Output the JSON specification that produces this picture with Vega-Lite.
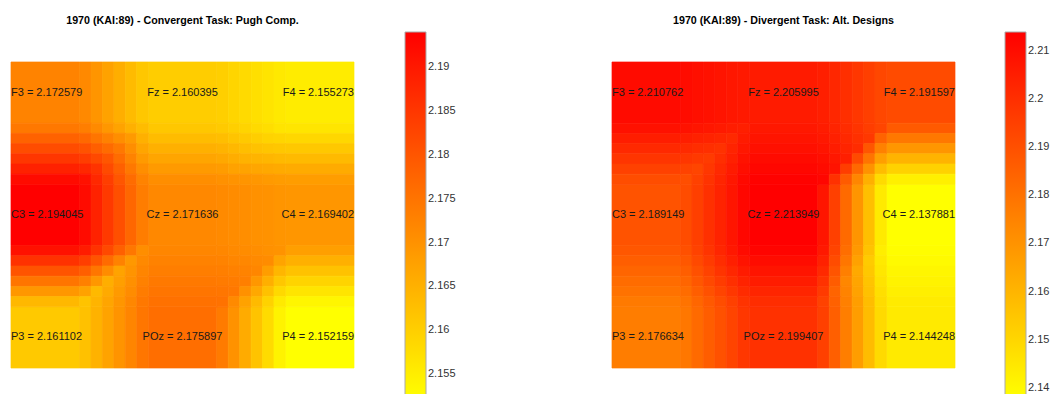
{
  "$schema": "https://vega.github.io/schema/vega-lite/v6.json",
  "padding": {"left": 10, "top": 15, "right": 0, "bottom": 0},
  "background": "white",
  "datasets": {
    "conv": [
      {"x0":0,"x1":6,"y0":0,"y1":6,"v":2.172579},{"x0":12,"x1":18,"y0":0,"y1":6,"v":2.160395},{"x0":24,"x1":30,"y0":0,"y1":6,"v":2.155273},
      {"x0":0,"x1":6,"y0":12,"y1":18,"v":2.194045},{"x0":12,"x1":18,"y0":12,"y1":18,"v":2.171636},{"x0":24,"x1":30,"y0":12,"y1":18,"v":2.169402},
      {"x0":0,"x1":6,"y0":24,"y1":30,"v":2.161102},{"x0":12,"x1":18,"y0":24,"y1":30,"v":2.175897},{"x0":24,"x1":30,"y0":24,"y1":30,"v":2.152159},
      {"x0":6,"x1":7,"y0":0,"y1":6,"v":2.1716},{"x0":7,"x1":8,"y0":0,"y1":6,"v":2.1695},{"x0":8,"x1":9,"y0":0,"y1":6,"v":2.1675},{"x0":9,"x1":10,"y0":0,"y1":6,"v":2.1655},{"x0":10,"x1":11,"y0":0,"y1":6,"v":2.1634},{"x0":11,"x1":12,"y0":0,"y1":6,"v":2.1614},
      {"x0":18,"x1":19,"y0":0,"y1":6,"v":2.1600},{"x0":19,"x1":20,"y0":0,"y1":6,"v":2.1591},{"x0":20,"x1":21,"y0":0,"y1":6,"v":2.1583},{"x0":21,"x1":22,"y0":0,"y1":6,"v":2.1574},{"x0":22,"x1":23,"y0":0,"y1":6,"v":2.1566},{"x0":23,"x1":24,"y0":0,"y1":6,"v":2.1557},
      {"x0":6,"x1":7,"y0":12,"y1":18,"v":2.1922},{"x0":7,"x1":8,"y0":12,"y1":18,"v":2.1884},{"x0":8,"x1":9,"y0":12,"y1":18,"v":2.1847},{"x0":9,"x1":10,"y0":12,"y1":18,"v":2.1810},{"x0":10,"x1":11,"y0":12,"y1":18,"v":2.1772},{"x0":11,"x1":12,"y0":12,"y1":18,"v":2.1735},
      {"x0":18,"x1":19,"y0":12,"y1":18,"v":2.1714},{"x0":19,"x1":20,"y0":12,"y1":18,"v":2.1711},{"x0":20,"x1":21,"y0":12,"y1":18,"v":2.1707},{"x0":21,"x1":22,"y0":12,"y1":18,"v":2.1703},{"x0":22,"x1":23,"y0":12,"y1":18,"v":2.1700},{"x0":23,"x1":24,"y0":12,"y1":18,"v":2.1696},
      {"x0":6,"x1":7,"y0":24,"y1":30,"v":2.1623},{"x0":7,"x1":8,"y0":24,"y1":30,"v":2.1648},{"x0":8,"x1":9,"y0":24,"y1":30,"v":2.1673},{"x0":9,"x1":10,"y0":24,"y1":30,"v":2.1697},{"x0":10,"x1":11,"y0":24,"y1":30,"v":2.1722},{"x0":11,"x1":12,"y0":24,"y1":30,"v":2.1747},
      {"x0":18,"x1":19,"y0":24,"y1":30,"v":2.1739},{"x0":19,"x1":20,"y0":24,"y1":30,"v":2.1700},{"x0":20,"x1":21,"y0":24,"y1":30,"v":2.1660},{"x0":21,"x1":22,"y0":24,"y1":30,"v":2.1620},{"x0":22,"x1":23,"y0":24,"y1":30,"v":2.1581},{"x0":23,"x1":24,"y0":24,"y1":30,"v":2.1541},
      {"x0":0,"x1":6,"y0":6,"y1":7,"v":2.1744},{"x0":0,"x1":6,"y0":7,"y1":8,"v":2.1779},{"x0":0,"x1":6,"y0":8,"y1":9,"v":2.1815},{"x0":0,"x1":6,"y0":9,"y1":10,"v":2.1851},{"x0":0,"x1":6,"y0":10,"y1":11,"v":2.1887},{"x0":0,"x1":6,"y0":11,"y1":12,"v":2.1923},
      {"x0":12,"x1":18,"y0":6,"y1":7,"v":2.1613},{"x0":12,"x1":18,"y0":7,"y1":8,"v":2.1632},{"x0":12,"x1":18,"y0":8,"y1":9,"v":2.1651},{"x0":12,"x1":18,"y0":9,"y1":10,"v":2.1670},{"x0":12,"x1":18,"y0":10,"y1":11,"v":2.1688},{"x0":12,"x1":18,"y0":11,"y1":12,"v":2.1707},
      {"x0":24,"x1":30,"y0":6,"y1":7,"v":2.1565},{"x0":24,"x1":30,"y0":7,"y1":8,"v":2.1588},{"x0":24,"x1":30,"y0":8,"y1":9,"v":2.1612},{"x0":24,"x1":30,"y0":9,"y1":10,"v":2.1635},{"x0":24,"x1":30,"y0":10,"y1":11,"v":2.1659},{"x0":24,"x1":30,"y0":11,"y1":12,"v":2.1682},
      {"x0":0,"x1":6,"y0":18,"y1":19,"v":2.1913},{"x0":0,"x1":6,"y0":19,"y1":20,"v":2.1858},{"x0":0,"x1":6,"y0":20,"y1":21,"v":2.1803},{"x0":0,"x1":6,"y0":21,"y1":22,"v":2.1748},{"x0":0,"x1":6,"y0":22,"y1":23,"v":2.1693},{"x0":0,"x1":6,"y0":23,"y1":24,"v":2.1638},
      {"x0":12,"x1":18,"y0":18,"y1":19,"v":2.1720},{"x0":12,"x1":18,"y0":19,"y1":20,"v":2.1727},{"x0":12,"x1":18,"y0":20,"y1":21,"v":2.1734},{"x0":12,"x1":18,"y0":21,"y1":22,"v":2.1741},{"x0":12,"x1":18,"y0":22,"y1":23,"v":2.1748},{"x0":12,"x1":18,"y0":23,"y1":24,"v":2.1755},
      {"x0":24,"x1":30,"y0":18,"y1":19,"v":2.1680},{"x0":24,"x1":30,"y0":19,"y1":20,"v":2.1651},{"x0":24,"x1":30,"y0":20,"y1":21,"v":2.1622},{"x0":24,"x1":30,"y0":21,"y1":22,"v":2.1593},{"x0":24,"x1":30,"y0":22,"y1":23,"v":2.1565},{"x0":24,"x1":30,"y0":23,"y1":24,"v":2.1536},
      {"x0":6,"x1":7,"y0":6,"y1":7,"v":2.1734},{"x0":7,"x1":8,"y0":6,"y1":7,"v":2.1713},{"x0":8,"x1":9,"y0":6,"y1":7,"v":2.1693},{"x0":9,"x1":10,"y0":6,"y1":7,"v":2.1673},{"x0":10,"x1":11,"y0":6,"y1":7,"v":2.1652},{"x0":11,"x1":12,"y0":6,"y1":7,"v":2.1632},
      {"x0":6,"x1":7,"y0":7,"y1":8,"v":2.1769},{"x0":7,"x1":8,"y0":7,"y1":8,"v":2.1749},{"x0":8,"x1":9,"y0":7,"y1":8,"v":2.1729},{"x0":9,"x1":10,"y0":7,"y1":8,"v":2.1708},{"x0":10,"x1":11,"y0":7,"y1":8,"v":2.1688},{"x0":11,"x1":12,"y0":7,"y1":8,"v":2.1651},
      {"x0":6,"x1":7,"y0":8,"y1":9,"v":2.1805},{"x0":7,"x1":8,"y0":8,"y1":9,"v":2.1785},{"x0":8,"x1":9,"y0":8,"y1":9,"v":2.1764},{"x0":9,"x1":10,"y0":8,"y1":9,"v":2.1744},{"x0":10,"x1":11,"y0":8,"y1":9,"v":2.1707},{"x0":11,"x1":12,"y0":8,"y1":9,"v":2.1669},
      {"x0":6,"x1":7,"y0":9,"y1":10,"v":2.1841},{"x0":7,"x1":8,"y0":9,"y1":10,"v":2.1821},{"x0":8,"x1":9,"y0":9,"y1":10,"v":2.1800},{"x0":9,"x1":10,"y0":9,"y1":10,"v":2.1763},{"x0":10,"x1":11,"y0":9,"y1":10,"v":2.1726},{"x0":11,"x1":12,"y0":9,"y1":10,"v":2.1688},
      {"x0":6,"x1":7,"y0":10,"y1":11,"v":2.1877},{"x0":7,"x1":8,"y0":10,"y1":11,"v":2.1856},{"x0":8,"x1":9,"y0":10,"y1":11,"v":2.1819},{"x0":9,"x1":10,"y0":10,"y1":11,"v":2.1782},{"x0":10,"x1":11,"y0":10,"y1":11,"v":2.1744},{"x0":11,"x1":12,"y0":10,"y1":11,"v":2.1707},
      {"x0":6,"x1":7,"y0":11,"y1":12,"v":2.1912},{"x0":7,"x1":8,"y0":11,"y1":12,"v":2.1875},{"x0":8,"x1":9,"y0":11,"y1":12,"v":2.1838},{"x0":9,"x1":10,"y0":11,"y1":12,"v":2.1800},{"x0":10,"x1":11,"y0":11,"y1":12,"v":2.1763},{"x0":11,"x1":12,"y0":11,"y1":12,"v":2.1726},
      {"x0":18,"x1":19,"y0":6,"y1":7,"v":2.1609},{"x0":19,"x1":20,"y0":6,"y1":7,"v":2.1601},{"x0":20,"x1":21,"y0":6,"y1":7,"v":2.1592},{"x0":21,"x1":22,"y0":6,"y1":7,"v":2.1583},{"x0":22,"x1":23,"y0":6,"y1":7,"v":2.1575},{"x0":23,"x1":24,"y0":6,"y1":7,"v":2.1566},
      {"x0":18,"x1":19,"y0":7,"y1":8,"v":2.1628},{"x0":19,"x1":20,"y0":7,"y1":8,"v":2.1619},{"x0":20,"x1":21,"y0":7,"y1":8,"v":2.1611},{"x0":21,"x1":22,"y0":7,"y1":8,"v":2.1602},{"x0":22,"x1":23,"y0":7,"y1":8,"v":2.1594},{"x0":23,"x1":24,"y0":7,"y1":8,"v":2.1590},
      {"x0":18,"x1":19,"y0":8,"y1":9,"v":2.1647},{"x0":19,"x1":20,"y0":8,"y1":9,"v":2.1638},{"x0":20,"x1":21,"y0":8,"y1":9,"v":2.1629},{"x0":21,"x1":22,"y0":8,"y1":9,"v":2.1621},{"x0":22,"x1":23,"y0":8,"y1":9,"v":2.1617},{"x0":23,"x1":24,"y0":8,"y1":9,"v":2.1613},
      {"x0":18,"x1":19,"y0":9,"y1":10,"v":2.1665},{"x0":19,"x1":20,"y0":9,"y1":10,"v":2.1657},{"x0":20,"x1":21,"y0":9,"y1":10,"v":2.1648},{"x0":21,"x1":22,"y0":9,"y1":10,"v":2.1644},{"x0":22,"x1":23,"y0":9,"y1":10,"v":2.1641},{"x0":23,"x1":24,"y0":9,"y1":10,"v":2.1637},
      {"x0":18,"x1":19,"y0":10,"y1":11,"v":2.1684},{"x0":19,"x1":20,"y0":10,"y1":11,"v":2.1675},{"x0":20,"x1":21,"y0":10,"y1":11,"v":2.1672},{"x0":21,"x1":22,"y0":10,"y1":11,"v":2.1668},{"x0":22,"x1":23,"y0":10,"y1":11,"v":2.1664},{"x0":23,"x1":24,"y0":10,"y1":11,"v":2.1661},
      {"x0":18,"x1":19,"y0":11,"y1":12,"v":2.1703},{"x0":19,"x1":20,"y0":11,"y1":12,"v":2.1699},{"x0":20,"x1":21,"y0":11,"y1":12,"v":2.1695},{"x0":21,"x1":22,"y0":11,"y1":12,"v":2.1692},{"x0":22,"x1":23,"y0":11,"y1":12,"v":2.1688},{"x0":23,"x1":24,"y0":11,"y1":12,"v":2.1684},
      {"x0":6,"x1":7,"y0":18,"y1":19,"v":2.1894},{"x0":7,"x1":8,"y0":18,"y1":19,"v":2.1857},{"x0":8,"x1":9,"y0":18,"y1":19,"v":2.1820},{"x0":9,"x1":10,"y0":18,"y1":19,"v":2.1782},{"x0":10,"x1":11,"y0":18,"y1":19,"v":2.1745},{"x0":11,"x1":12,"y0":18,"y1":19,"v":2.1708},
      {"x0":6,"x1":7,"y0":19,"y1":20,"v":2.1839},{"x0":7,"x1":8,"y0":19,"y1":20,"v":2.1802},{"x0":8,"x1":9,"y0":19,"y1":20,"v":2.1765},{"x0":9,"x1":10,"y0":19,"y1":20,"v":2.1727},{"x0":10,"x1":11,"y0":19,"y1":20,"v":2.1690},{"x0":11,"x1":12,"y0":19,"y1":20,"v":2.1715},
      {"x0":6,"x1":7,"y0":20,"y1":21,"v":2.1785},{"x0":7,"x1":8,"y0":20,"y1":21,"v":2.1747},{"x0":8,"x1":9,"y0":20,"y1":21,"v":2.1710},{"x0":9,"x1":10,"y0":20,"y1":21,"v":2.1672},{"x0":10,"x1":11,"y0":20,"y1":21,"v":2.1697},{"x0":11,"x1":12,"y0":20,"y1":21,"v":2.1722},
      {"x0":6,"x1":7,"y0":21,"y1":22,"v":2.1730},{"x0":7,"x1":8,"y0":21,"y1":22,"v":2.1692},{"x0":8,"x1":9,"y0":21,"y1":22,"v":2.1655},{"x0":9,"x1":10,"y0":21,"y1":22,"v":2.1680},{"x0":10,"x1":11,"y0":21,"y1":22,"v":2.1704},{"x0":11,"x1":12,"y0":21,"y1":22,"v":2.1729},
      {"x0":6,"x1":7,"y0":22,"y1":23,"v":2.1675},{"x0":7,"x1":8,"y0":22,"y1":23,"v":2.1637},{"x0":8,"x1":9,"y0":22,"y1":23,"v":2.1662},{"x0":9,"x1":10,"y0":22,"y1":23,"v":2.1687},{"x0":10,"x1":11,"y0":22,"y1":23,"v":2.1711},{"x0":11,"x1":12,"y0":22,"y1":23,"v":2.1736},
      {"x0":6,"x1":7,"y0":23,"y1":24,"v":2.1620},{"x0":7,"x1":8,"y0":23,"y1":24,"v":2.1644},{"x0":8,"x1":9,"y0":23,"y1":24,"v":2.1669},{"x0":9,"x1":10,"y0":23,"y1":24,"v":2.1694},{"x0":10,"x1":11,"y0":23,"y1":24,"v":2.1718},{"x0":11,"x1":12,"y0":23,"y1":24,"v":2.1743},
      {"x0":18,"x1":19,"y0":18,"y1":19,"v":2.1718},{"x0":19,"x1":20,"y0":18,"y1":19,"v":2.1714},{"x0":20,"x1":21,"y0":18,"y1":19,"v":2.1711},{"x0":21,"x1":22,"y0":18,"y1":19,"v":2.1707},{"x0":22,"x1":23,"y0":18,"y1":19,"v":2.1703},{"x0":23,"x1":24,"y0":18,"y1":19,"v":2.1699},
      {"x0":18,"x1":19,"y0":19,"y1":20,"v":2.1725},{"x0":19,"x1":20,"y0":19,"y1":20,"v":2.1721},{"x0":20,"x1":21,"y0":19,"y1":20,"v":2.1718},{"x0":21,"x1":22,"y0":19,"y1":20,"v":2.1714},{"x0":22,"x1":23,"y0":19,"y1":20,"v":2.1710},{"x0":23,"x1":24,"y0":19,"y1":20,"v":2.1671},
      {"x0":18,"x1":19,"y0":20,"y1":21,"v":2.1732},{"x0":19,"x1":20,"y0":20,"y1":21,"v":2.1729},{"x0":20,"x1":21,"y0":20,"y1":21,"v":2.1725},{"x0":21,"x1":22,"y0":20,"y1":21,"v":2.1721},{"x0":22,"x1":23,"y0":20,"y1":21,"v":2.1682},{"x0":23,"x1":24,"y0":20,"y1":21,"v":2.1642},
      {"x0":18,"x1":19,"y0":21,"y1":22,"v":2.1739},{"x0":19,"x1":20,"y0":21,"y1":22,"v":2.1736},{"x0":20,"x1":21,"y0":21,"y1":22,"v":2.1732},{"x0":21,"x1":22,"y0":21,"y1":22,"v":2.1692},{"x0":22,"x1":23,"y0":21,"y1":22,"v":2.1653},{"x0":23,"x1":24,"y0":21,"y1":22,"v":2.1613},
      {"x0":18,"x1":19,"y0":22,"y1":23,"v":2.1746},{"x0":19,"x1":20,"y0":22,"y1":23,"v":2.1743},{"x0":20,"x1":21,"y0":22,"y1":23,"v":2.1703},{"x0":21,"x1":22,"y0":22,"y1":23,"v":2.1664},{"x0":22,"x1":23,"y0":22,"y1":23,"v":2.1624},{"x0":23,"x1":24,"y0":22,"y1":23,"v":2.1584},
      {"x0":18,"x1":19,"y0":23,"y1":24,"v":2.1754},{"x0":19,"x1":20,"y0":23,"y1":24,"v":2.1714},{"x0":20,"x1":21,"y0":23,"y1":24,"v":2.1674},{"x0":21,"x1":22,"y0":23,"y1":24,"v":2.1635},{"x0":22,"x1":23,"y0":23,"y1":24,"v":2.1595},{"x0":23,"x1":24,"y0":23,"y1":24,"v":2.1556}
    ],
    "div": [
      {"x0":0,"x1":6,"y0":0,"y1":6,"v":2.210762},{"x0":12,"x1":18,"y0":0,"y1":6,"v":2.205995},{"x0":24,"x1":30,"y0":0,"y1":6,"v":2.191597},
      {"x0":0,"x1":6,"y0":12,"y1":18,"v":2.189149},{"x0":12,"x1":18,"y0":12,"y1":18,"v":2.213949},{"x0":24,"x1":30,"y0":12,"y1":18,"v":2.137881},
      {"x0":0,"x1":6,"y0":24,"y1":30,"v":2.176634},{"x0":12,"x1":18,"y0":24,"y1":30,"v":2.199407},{"x0":24,"x1":30,"y0":24,"y1":30,"v":2.144248},
      {"x0":6,"x1":7,"y0":0,"y1":6,"v":2.2104},{"x0":7,"x1":8,"y0":0,"y1":6,"v":2.2096},{"x0":8,"x1":9,"y0":0,"y1":6,"v":2.2088},{"x0":9,"x1":10,"y0":0,"y1":6,"v":2.2080},{"x0":10,"x1":11,"y0":0,"y1":6,"v":2.2072},{"x0":11,"x1":12,"y0":0,"y1":6,"v":2.2064},
      {"x0":18,"x1":19,"y0":0,"y1":6,"v":2.2048},{"x0":19,"x1":20,"y0":0,"y1":6,"v":2.2024},{"x0":20,"x1":21,"y0":0,"y1":6,"v":2.2000},{"x0":21,"x1":22,"y0":0,"y1":6,"v":2.1976},{"x0":22,"x1":23,"y0":0,"y1":6,"v":2.1952},{"x0":23,"x1":24,"y0":0,"y1":6,"v":2.1928},
      {"x0":6,"x1":7,"y0":12,"y1":18,"v":2.1912},{"x0":7,"x1":8,"y0":12,"y1":18,"v":2.1953},{"x0":8,"x1":9,"y0":12,"y1":18,"v":2.1995},{"x0":9,"x1":10,"y0":12,"y1":18,"v":2.2036},{"x0":10,"x1":11,"y0":12,"y1":18,"v":2.2077},{"x0":11,"x1":12,"y0":12,"y1":18,"v":2.2119},
      {"x0":18,"x1":19,"y0":12,"y1":18,"v":2.2076},{"x0":19,"x1":20,"y0":12,"y1":18,"v":2.1949},{"x0":20,"x1":21,"y0":12,"y1":18,"v":2.1823},{"x0":21,"x1":22,"y0":12,"y1":18,"v":2.1696},{"x0":22,"x1":23,"y0":12,"y1":18,"v":2.1569},{"x0":23,"x1":24,"y0":12,"y1":18,"v":2.1442},
      {"x0":6,"x1":7,"y0":24,"y1":30,"v":2.1785},{"x0":7,"x1":8,"y0":24,"y1":30,"v":2.1823},{"x0":8,"x1":9,"y0":24,"y1":30,"v":2.1861},{"x0":9,"x1":10,"y0":24,"y1":30,"v":2.1899},{"x0":10,"x1":11,"y0":24,"y1":30,"v":2.1937},{"x0":11,"x1":12,"y0":24,"y1":30,"v":2.1975},
      {"x0":18,"x1":19,"y0":24,"y1":30,"v":2.1948},{"x0":19,"x1":20,"y0":24,"y1":30,"v":2.1856},{"x0":20,"x1":21,"y0":24,"y1":30,"v":2.1764},{"x0":21,"x1":22,"y0":24,"y1":30,"v":2.1672},{"x0":22,"x1":23,"y0":24,"y1":30,"v":2.1580},{"x0":23,"x1":24,"y0":24,"y1":30,"v":2.1488},
      {"x0":0,"x1":6,"y0":6,"y1":7,"v":2.2090},{"x0":0,"x1":6,"y0":7,"y1":8,"v":2.2054},{"x0":0,"x1":6,"y0":8,"y1":9,"v":2.2018},{"x0":0,"x1":6,"y0":9,"y1":10,"v":2.1982},{"x0":0,"x1":6,"y0":10,"y1":11,"v":2.1946},{"x0":0,"x1":6,"y0":11,"y1":12,"v":2.1910},
      {"x0":12,"x1":18,"y0":6,"y1":7,"v":2.2067},{"x0":12,"x1":18,"y0":7,"y1":8,"v":2.2080},{"x0":12,"x1":18,"y0":8,"y1":9,"v":2.2093},{"x0":12,"x1":18,"y0":9,"y1":10,"v":2.2106},{"x0":12,"x1":18,"y0":10,"y1":11,"v":2.2120},{"x0":12,"x1":18,"y0":11,"y1":12,"v":2.2133},
      {"x0":24,"x1":30,"y0":6,"y1":7,"v":2.1871},{"x0":24,"x1":30,"y0":7,"y1":8,"v":2.1782},{"x0":24,"x1":30,"y0":8,"y1":9,"v":2.1692},{"x0":24,"x1":30,"y0":9,"y1":10,"v":2.1603},{"x0":24,"x1":30,"y0":10,"y1":11,"v":2.1513},{"x0":24,"x1":30,"y0":11,"y1":12,"v":2.1424},
      {"x0":0,"x1":6,"y0":18,"y1":19,"v":2.1881},{"x0":0,"x1":6,"y0":19,"y1":20,"v":2.1860},{"x0":0,"x1":6,"y0":20,"y1":21,"v":2.1839},{"x0":0,"x1":6,"y0":21,"y1":22,"v":2.1818},{"x0":0,"x1":6,"y0":22,"y1":23,"v":2.1798},{"x0":0,"x1":6,"y0":23,"y1":24,"v":2.1777},
      {"x0":12,"x1":18,"y0":18,"y1":19,"v":2.2127},{"x0":12,"x1":18,"y0":19,"y1":20,"v":2.2103},{"x0":12,"x1":18,"y0":20,"y1":21,"v":2.2079},{"x0":12,"x1":18,"y0":21,"y1":22,"v":2.2055},{"x0":12,"x1":18,"y0":22,"y1":23,"v":2.2030},{"x0":12,"x1":18,"y0":23,"y1":24,"v":2.2006},
      {"x0":24,"x1":30,"y0":18,"y1":19,"v":2.1384},{"x0":24,"x1":30,"y0":19,"y1":20,"v":2.1395},{"x0":24,"x1":30,"y0":20,"y1":21,"v":2.1405},{"x0":24,"x1":30,"y0":21,"y1":22,"v":2.1416},{"x0":24,"x1":30,"y0":22,"y1":23,"v":2.1427},{"x0":24,"x1":30,"y0":23,"y1":24,"v":2.1437},
      {"x0":6,"x1":7,"y0":6,"y1":7,"v":2.2086},{"x0":7,"x1":8,"y0":6,"y1":7,"v":2.2078},{"x0":8,"x1":9,"y0":6,"y1":7,"v":2.2070},{"x0":9,"x1":10,"y0":6,"y1":7,"v":2.2062},{"x0":10,"x1":11,"y0":6,"y1":7,"v":2.2054},{"x0":11,"x1":12,"y0":6,"y1":7,"v":2.2046},
      {"x0":6,"x1":7,"y0":7,"y1":8,"v":2.2050},{"x0":7,"x1":8,"y0":7,"y1":8,"v":2.2042},{"x0":8,"x1":9,"y0":7,"y1":8,"v":2.2034},{"x0":9,"x1":10,"y0":7,"y1":8,"v":2.2026},{"x0":10,"x1":11,"y0":7,"y1":8,"v":2.2018},{"x0":11,"x1":12,"y0":7,"y1":8,"v":2.2059},
      {"x0":6,"x1":7,"y0":8,"y1":9,"v":2.2014},{"x0":7,"x1":8,"y0":8,"y1":9,"v":2.2006},{"x0":8,"x1":9,"y0":8,"y1":9,"v":2.1998},{"x0":9,"x1":10,"y0":8,"y1":9,"v":2.1990},{"x0":10,"x1":11,"y0":8,"y1":9,"v":2.2031},{"x0":11,"x1":12,"y0":8,"y1":9,"v":2.2072},
      {"x0":6,"x1":7,"y0":9,"y1":10,"v":2.1978},{"x0":7,"x1":8,"y0":9,"y1":10,"v":2.1970},{"x0":8,"x1":9,"y0":9,"y1":10,"v":2.1962},{"x0":9,"x1":10,"y0":9,"y1":10,"v":2.2003},{"x0":10,"x1":11,"y0":9,"y1":10,"v":2.2044},{"x0":11,"x1":12,"y0":9,"y1":10,"v":2.2086},
      {"x0":6,"x1":7,"y0":10,"y1":11,"v":2.1942},{"x0":7,"x1":8,"y0":10,"y1":11,"v":2.1934},{"x0":8,"x1":9,"y0":10,"y1":11,"v":2.1975},{"x0":9,"x1":10,"y0":10,"y1":11,"v":2.2016},{"x0":10,"x1":11,"y0":10,"y1":11,"v":2.2058},{"x0":11,"x1":12,"y0":10,"y1":11,"v":2.2099},
      {"x0":6,"x1":7,"y0":11,"y1":12,"v":2.1906},{"x0":7,"x1":8,"y0":11,"y1":12,"v":2.1947},{"x0":8,"x1":9,"y0":11,"y1":12,"v":2.1988},{"x0":9,"x1":10,"y0":11,"y1":12,"v":2.2030},{"x0":10,"x1":11,"y0":11,"y1":12,"v":2.2071},{"x0":11,"x1":12,"y0":11,"y1":12,"v":2.2112},
      {"x0":18,"x1":19,"y0":6,"y1":7,"v":2.2055},{"x0":19,"x1":20,"y0":6,"y1":7,"v":2.2031},{"x0":20,"x1":21,"y0":6,"y1":7,"v":2.2007},{"x0":21,"x1":22,"y0":6,"y1":7,"v":2.1983},{"x0":22,"x1":23,"y0":6,"y1":7,"v":2.1959},{"x0":23,"x1":24,"y0":6,"y1":7,"v":2.1935},
      {"x0":18,"x1":19,"y0":7,"y1":8,"v":2.2068},{"x0":19,"x1":20,"y0":7,"y1":8,"v":2.2044},{"x0":20,"x1":21,"y0":7,"y1":8,"v":2.2020},{"x0":21,"x1":22,"y0":7,"y1":8,"v":2.1996},{"x0":22,"x1":23,"y0":7,"y1":8,"v":2.1972},{"x0":23,"x1":24,"y0":7,"y1":8,"v":2.1845},
      {"x0":18,"x1":19,"y0":8,"y1":9,"v":2.2081},{"x0":19,"x1":20,"y0":8,"y1":9,"v":2.2057},{"x0":20,"x1":21,"y0":8,"y1":9,"v":2.2033},{"x0":21,"x1":22,"y0":8,"y1":9,"v":2.2009},{"x0":22,"x1":23,"y0":8,"y1":9,"v":2.1882},{"x0":23,"x1":24,"y0":8,"y1":9,"v":2.1756},
      {"x0":18,"x1":19,"y0":9,"y1":10,"v":2.2094},{"x0":19,"x1":20,"y0":9,"y1":10,"v":2.2070},{"x0":20,"x1":21,"y0":9,"y1":10,"v":2.2046},{"x0":21,"x1":22,"y0":9,"y1":10,"v":2.1920},{"x0":22,"x1":23,"y0":9,"y1":10,"v":2.1793},{"x0":23,"x1":24,"y0":9,"y1":10,"v":2.1666},
      {"x0":18,"x1":19,"y0":10,"y1":11,"v":2.2108},{"x0":19,"x1":20,"y0":10,"y1":11,"v":2.2084},{"x0":20,"x1":21,"y0":10,"y1":11,"v":2.1957},{"x0":21,"x1":22,"y0":10,"y1":11,"v":2.1830},{"x0":22,"x1":23,"y0":10,"y1":11,"v":2.1703},{"x0":23,"x1":24,"y0":10,"y1":11,"v":2.1576},
      {"x0":18,"x1":19,"y0":11,"y1":12,"v":2.2121},{"x0":19,"x1":20,"y0":11,"y1":12,"v":2.1994},{"x0":20,"x1":21,"y0":11,"y1":12,"v":2.1867},{"x0":21,"x1":22,"y0":11,"y1":12,"v":2.1741},{"x0":22,"x1":23,"y0":11,"y1":12,"v":2.1614},{"x0":23,"x1":24,"y0":11,"y1":12,"v":2.1487},
      {"x0":6,"x1":7,"y0":18,"y1":19,"v":2.1902},{"x0":7,"x1":8,"y0":18,"y1":19,"v":2.1943},{"x0":8,"x1":9,"y0":18,"y1":19,"v":2.1984},{"x0":9,"x1":10,"y0":18,"y1":19,"v":2.2026},{"x0":10,"x1":11,"y0":18,"y1":19,"v":2.2067},{"x0":11,"x1":12,"y0":18,"y1":19,"v":2.2108},
      {"x0":6,"x1":7,"y0":19,"y1":20,"v":2.1881},{"x0":7,"x1":8,"y0":19,"y1":20,"v":2.1922},{"x0":8,"x1":9,"y0":19,"y1":20,"v":2.1964},{"x0":9,"x1":10,"y0":19,"y1":20,"v":2.2005},{"x0":10,"x1":11,"y0":19,"y1":20,"v":2.2046},{"x0":11,"x1":12,"y0":19,"y1":20,"v":2.2084},
      {"x0":6,"x1":7,"y0":20,"y1":21,"v":2.1860},{"x0":7,"x1":8,"y0":20,"y1":21,"v":2.1901},{"x0":8,"x1":9,"y0":20,"y1":21,"v":2.1943},{"x0":9,"x1":10,"y0":20,"y1":21,"v":2.1984},{"x0":10,"x1":11,"y0":20,"y1":21,"v":2.2022},{"x0":11,"x1":12,"y0":20,"y1":21,"v":2.2060},
      {"x0":6,"x1":7,"y0":21,"y1":22,"v":2.1839},{"x0":7,"x1":8,"y0":21,"y1":22,"v":2.1880},{"x0":8,"x1":9,"y0":21,"y1":22,"v":2.1922},{"x0":9,"x1":10,"y0":21,"y1":22,"v":2.1960},{"x0":10,"x1":11,"y0":21,"y1":22,"v":2.1998},{"x0":11,"x1":12,"y0":21,"y1":22,"v":2.2036},
      {"x0":6,"x1":7,"y0":22,"y1":23,"v":2.1818},{"x0":7,"x1":8,"y0":22,"y1":23,"v":2.1860},{"x0":8,"x1":9,"y0":22,"y1":23,"v":2.1898},{"x0":9,"x1":10,"y0":22,"y1":23,"v":2.1936},{"x0":10,"x1":11,"y0":22,"y1":23,"v":2.1974},{"x0":11,"x1":12,"y0":22,"y1":23,"v":2.2011},
      {"x0":6,"x1":7,"y0":23,"y1":24,"v":2.1797},{"x0":7,"x1":8,"y0":23,"y1":24,"v":2.1835},{"x0":8,"x1":9,"y0":23,"y1":24,"v":2.1873},{"x0":9,"x1":10,"y0":23,"y1":24,"v":2.1911},{"x0":10,"x1":11,"y0":23,"y1":24,"v":2.1949},{"x0":11,"x1":12,"y0":23,"y1":24,"v":2.1987},
      {"x0":18,"x1":19,"y0":18,"y1":19,"v":2.2064},{"x0":19,"x1":20,"y0":18,"y1":19,"v":2.1937},{"x0":20,"x1":21,"y0":18,"y1":19,"v":2.1810},{"x0":21,"x1":22,"y0":18,"y1":19,"v":2.1684},{"x0":22,"x1":23,"y0":18,"y1":19,"v":2.1557},{"x0":23,"x1":24,"y0":18,"y1":19,"v":2.1430},
      {"x0":18,"x1":19,"y0":19,"y1":20,"v":2.2040},{"x0":19,"x1":20,"y0":19,"y1":20,"v":2.1913},{"x0":20,"x1":21,"y0":19,"y1":20,"v":2.1786},{"x0":21,"x1":22,"y0":19,"y1":20,"v":2.1659},{"x0":22,"x1":23,"y0":19,"y1":20,"v":2.1533},{"x0":23,"x1":24,"y0":19,"y1":20,"v":2.1441},
      {"x0":18,"x1":19,"y0":20,"y1":21,"v":2.2016},{"x0":19,"x1":20,"y0":20,"y1":21,"v":2.1889},{"x0":20,"x1":21,"y0":20,"y1":21,"v":2.1762},{"x0":21,"x1":22,"y0":20,"y1":21,"v":2.1635},{"x0":22,"x1":23,"y0":20,"y1":21,"v":2.1543},{"x0":23,"x1":24,"y0":20,"y1":21,"v":2.1451},
      {"x0":18,"x1":19,"y0":21,"y1":22,"v":2.1991},{"x0":19,"x1":20,"y0":21,"y1":22,"v":2.1864},{"x0":20,"x1":21,"y0":21,"y1":22,"v":2.1738},{"x0":21,"x1":22,"y0":21,"y1":22,"v":2.1646},{"x0":22,"x1":23,"y0":21,"y1":22,"v":2.1554},{"x0":23,"x1":24,"y0":21,"y1":22,"v":2.1462},
      {"x0":18,"x1":19,"y0":22,"y1":23,"v":2.1967},{"x0":19,"x1":20,"y0":22,"y1":23,"v":2.1840},{"x0":20,"x1":21,"y0":22,"y1":23,"v":2.1748},{"x0":21,"x1":22,"y0":22,"y1":23,"v":2.1656},{"x0":22,"x1":23,"y0":22,"y1":23,"v":2.1564},{"x0":23,"x1":24,"y0":22,"y1":23,"v":2.1473},
      {"x0":18,"x1":19,"y0":23,"y1":24,"v":2.1943},{"x0":19,"x1":20,"y0":23,"y1":24,"v":2.1851},{"x0":20,"x1":21,"y0":23,"y1":24,"v":2.1759},{"x0":21,"x1":22,"y0":23,"y1":24,"v":2.1667},{"x0":22,"x1":23,"y0":23,"y1":24,"v":2.1575},{"x0":23,"x1":24,"y0":23,"y1":24,"v":2.1483}
    ],
    "convLabels": [
      {"col":0,"x":0,"y":3,"label":"F3 = 2.172579"},
      {"col":1,"x":15,"y":3,"label":"Fz = 2.160395"},
      {"col":2,"x":30,"y":3,"label":"F4 = 2.155273"},
      {"col":0,"x":0,"y":15,"label":"C3 = 2.194045"},
      {"col":1,"x":15,"y":15,"label":"Cz = 2.171636"},
      {"col":2,"x":30,"y":15,"label":"C4 = 2.169402"},
      {"col":0,"x":0,"y":27,"label":"P3 = 2.161102"},
      {"col":1,"x":15,"y":27,"label":"POz = 2.175897"},
      {"col":2,"x":30,"y":27,"label":"P4 = 2.152159"}
    ],
    "divLabels": [
      {"col":0,"x":0,"y":3,"label":"F3 = 2.210762"},
      {"col":1,"x":15,"y":3,"label":"Fz = 2.205995"},
      {"col":2,"x":30,"y":3,"label":"F4 = 2.191597"},
      {"col":0,"x":0,"y":15,"label":"C3 = 2.189149"},
      {"col":1,"x":15,"y":15,"label":"Cz = 2.213949"},
      {"col":2,"x":30,"y":15,"label":"C4 = 2.137881"},
      {"col":0,"x":0,"y":27,"label":"P3 = 2.176634"},
      {"col":1,"x":15,"y":27,"label":"POz = 2.199407"},
      {"col":2,"x":30,"y":27,"label":"P4 = 2.144248"}
    ]
  },
  "spacing": 155,
  "resolve": {"scale": {"color": "independent", "stroke": "independent"}},
  "hconcat": [
    {
      "width": 343,
      "height": 306,
      "title": {"text": "1970 (KAI:89) - Convergent Task: Pugh Comp.", "fontSize": 10.7, "fontWeight": "bold", "font": "Liberation Sans", "color": "#000000", "anchor": "middle", "frame": "group", "offset": 5},
      "layer": [
        {
          "data": {"name": "conv"},
          "mark": {"type": "rect", "strokeWidth": 0.7},
          "encoding": {
            "x": {"field": "x0", "type": "quantitative", "scale": {"domain": [0, 30], "nice": false, "zero": false}, "axis": null},
            "x2": {"field": "x1"},
            "y": {"field": "y0", "type": "quantitative", "scale": {"domain": [0, 30], "nice": false, "zero": false, "reverse": true}, "axis": null},
            "y2": {"field": "y1"},
            "color": {"field": "v", "type": "quantitative",
              "scale": {"domain": [2.152159, 2.194045], "range": ["#ffff00", "#ff0000"], "interpolate": "rgb"},
              "legend": {"orient": "none", "legendX": 394, "legendY": -30, "title": null, "direction": "vertical", "gradientLength": 367, "gradientThickness": 21, "values": [2.155, 2.16, 2.165, 2.17, 2.175, 2.18, 2.185, 2.19], "format": "~g", "labelFont": "Liberation Sans", "labelFontSize": 11, "labelColor": "#333333", "labelOverlap": false, "gradientStrokeColor": "#aaaaaa", "gradientStrokeWidth": 1, "labelOffset": 2}},
            "stroke": {"field": "v", "type": "quantitative",
              "scale": {"domain": [2.15216, 2.19404], "range": ["#ffff00", "#ff0000"], "interpolate": "rgb"}, "legend": null}
          }
        },
        {
          "data": {"name": "convLabels"},
          "transform": [{"filter": {"field": "col", "equal": 0}}],
          "mark": {"type": "text", "align": "left", "baseline": "middle", "font": "Liberation Sans", "fontSize": 11, "color": "#1a1a1a"},
          "encoding": {"x": {"field": "x", "type": "quantitative"}, "y": {"field": "y", "type": "quantitative"}, "text": {"field": "label"}}
        },
        {
          "data": {"name": "convLabels"},
          "transform": [{"filter": {"field": "col", "equal": 1}}],
          "mark": {"type": "text", "align": "center", "baseline": "middle", "font": "Liberation Sans", "fontSize": 11, "color": "#1a1a1a"},
          "encoding": {"x": {"field": "x", "type": "quantitative"}, "y": {"field": "y", "type": "quantitative"}, "text": {"field": "label"}}
        },
        {
          "data": {"name": "convLabels"},
          "transform": [{"filter": {"field": "col", "equal": 2}}],
          "mark": {"type": "text", "align": "right", "baseline": "middle", "font": "Liberation Sans", "fontSize": 11, "color": "#1a1a1a"},
          "encoding": {"x": {"field": "x", "type": "quantitative"}, "y": {"field": "y", "type": "quantitative"}, "text": {"field": "label"}}
        }
      ]
    },
    {
      "width": 343,
      "height": 306,
      "title": {"text": "1970 (KAI:89) - Divergent Task: Alt. Designs", "fontSize": 10.7, "fontWeight": "bold", "font": "Liberation Sans", "color": "#000000", "anchor": "middle", "frame": "group", "offset": 5},
      "layer": [
        {
          "data": {"name": "div"},
          "mark": {"type": "rect", "strokeWidth": 0.7},
          "encoding": {
            "x": {"field": "x0", "type": "quantitative", "scale": {"domain": [0, 30], "nice": false, "zero": false}, "axis": null},
            "x2": {"field": "x1"},
            "y": {"field": "y0", "type": "quantitative", "scale": {"domain": [0, 30], "nice": false, "zero": false, "reverse": true}, "axis": null},
            "y2": {"field": "y1"},
            "color": {"field": "v", "type": "quantitative",
              "scale": {"domain": [2.137881, 2.213949], "range": ["#ffff00", "#ff0000"], "interpolate": "rgb"},
              "legend": {"orient": "none", "legendX": 393, "legendY": -30, "title": null, "direction": "vertical", "gradientLength": 366, "gradientThickness": 21, "values": [2.14, 2.15, 2.16, 2.17, 2.18, 2.19, 2.2, 2.21], "format": "~g", "labelFont": "Liberation Sans", "labelFontSize": 11, "labelColor": "#333333", "labelOverlap": false, "gradientStrokeColor": "#aaaaaa", "gradientStrokeWidth": 1, "labelOffset": 2}},
            "stroke": {"field": "v", "type": "quantitative",
              "scale": {"domain": [2.13789, 2.21394], "range": ["#ffff00", "#ff0000"], "interpolate": "rgb"}, "legend": null}
          }
        },
        {
          "data": {"name": "divLabels"},
          "transform": [{"filter": {"field": "col", "equal": 0}}],
          "mark": {"type": "text", "align": "left", "baseline": "middle", "font": "Liberation Sans", "fontSize": 11, "color": "#1a1a1a"},
          "encoding": {"x": {"field": "x", "type": "quantitative"}, "y": {"field": "y", "type": "quantitative"}, "text": {"field": "label"}}
        },
        {
          "data": {"name": "divLabels"},
          "transform": [{"filter": {"field": "col", "equal": 1}}],
          "mark": {"type": "text", "align": "center", "baseline": "middle", "font": "Liberation Sans", "fontSize": 11, "color": "#1a1a1a"},
          "encoding": {"x": {"field": "x", "type": "quantitative"}, "y": {"field": "y", "type": "quantitative"}, "text": {"field": "label"}}
        },
        {
          "data": {"name": "divLabels"},
          "transform": [{"filter": {"field": "col", "equal": 2}}],
          "mark": {"type": "text", "align": "right", "baseline": "middle", "font": "Liberation Sans", "fontSize": 11, "color": "#1a1a1a"},
          "encoding": {"x": {"field": "x", "type": "quantitative"}, "y": {"field": "y", "type": "quantitative"}, "text": {"field": "label"}}
        }
      ]
    }
  ],
  "config": {"view": {"stroke": null}, "font": "Liberation Sans"}
}
